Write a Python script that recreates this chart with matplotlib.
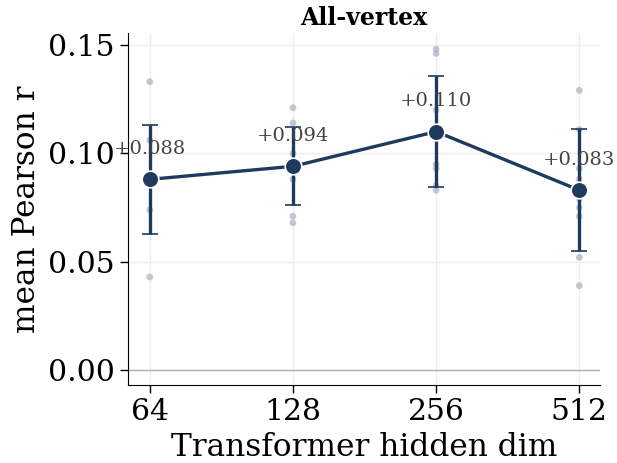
import numpy as np
import matplotlib
matplotlib.use("Agg")
import matplotlib.pyplot as plt

dims = [64, 128, 256, 512]
mean_r = [0.088, 0.094, 0.110, 0.083]
err_r = [0.025, 0.018, 0.0255, 0.028]
seed_r = [
    [0.133, 0.106, 0.088, 0.074, 0.043],
    [0.121, 0.114, 0.100, 0.088, 0.071, 0.068],
    [0.148, 0.146, 0.120, 0.095, 0.093, 0.085, 0.083],
    [0.129, 0.111, 0.093, 0.088, 0.079, 0.075, 0.071, 0.052, 0.039],
]

navy = "#1f3a5f"
plt.rcParams["font.family"] = "DejaVu Serif"

fig, ax = plt.subplots(figsize=(6.17, 4.63), dpi=100)
fig.subplots_adjust(left=0.207, right=0.973, top=0.928, bottom=0.168)

for d, vals in zip(dims, seed_r):
    ax.scatter([d] * len(vals), vals, s=24, color="#9aa6bc", alpha=0.6,
               edgecolors="none", zorder=2)

ax.axhline(0, color="#b0b0b0", lw=1, zorder=1)
ax.errorbar(dims, mean_r, yerr=err_r, color=navy, lw=2.4, elinewidth=2.4,
            capsize=5.5, capthick=1.8, marker="o", markersize=12,
            markeredgecolor="white", markeredgewidth=1.2, zorder=4)

for d, m in zip(dims, mean_r):
    ax.annotate(f"+{m:.3f}", (d, m), xytext=(0, 22), textcoords="offset points",
                ha="center", va="center", fontsize=14, color="#444444", zorder=5)

ax.set_xscale("log", base=2)
ax.set_xticks(dims)
ax.set_xticklabels([str(d) for d in dims])
ax.minorticks_off()
ax.set_xlim(64 / 2 ** 0.154, 512 * 2 ** 0.147)
ax.set_ylim(-0.0069, 0.1553)
ax.set_yticks([0.0, 0.05, 0.10, 0.15])
ax.set_yticklabels(["0.00", "0.05", "0.10", "0.15"])
ax.grid(True, color="#eeeeee", lw=1)
ax.set_axisbelow(True)
for s in ["top", "right"]:
    ax.spines[s].set_visible(False)
ax.tick_params(labelsize=21.5, length=6, width=1)

ax.set_xlabel("Transformer hidden dim", fontsize=22.5)
ax.set_ylabel("mean Pearson r", fontsize=22.5)
ax.set_title("All-vertex", fontsize=17, fontweight="bold")

fig.savefig("out.png", dpi=100)
